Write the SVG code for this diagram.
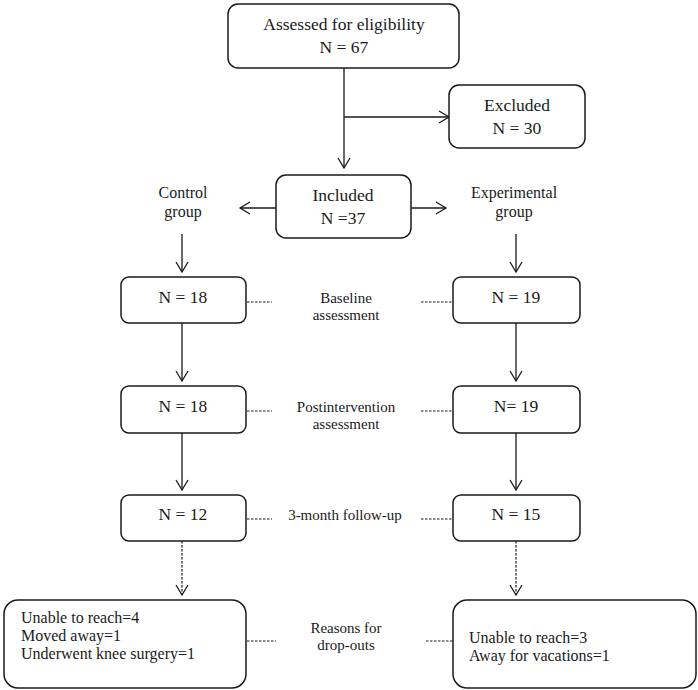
<svg xmlns="http://www.w3.org/2000/svg" width="698" height="690" viewBox="0 0 698 690">
<style>
.box{fill:#fff;stroke:#1a1a1a;stroke-width:1.5}
.ln{fill:none;stroke:#1a1a1a;stroke-width:1.3}
.ds{fill:none;stroke:#1a1a1a;stroke-width:1.2;stroke-dasharray:2.5,1.5}
.ah{fill:none;stroke:#1a1a1a;stroke-width:1.3}
text{font-family:"Liberation Serif","Times New Roman",serif;fill:#1a1a1a}
.t17{font-size:17.5px;text-anchor:middle}
.t16{font-size:16px;text-anchor:middle}
.t15{font-size:15px;text-anchor:middle}
.l16{font-size:16px}
</style>
<rect width="698" height="690" fill="#fff"/>
<g id="connectors">
  <path class="ln" d="M344,68 V168 M344,117 H449"/>
  <path class="ah" d="M338,158 L344,168 L350,158 M439,111 L449,117 L439,123"/>
  <path class="ln" d="M276,208 H240 M411,208 H446"/>
  <path class="ah" d="M250,202 L240,208 L250,214 M436,202 L446,208 L436,214"/>
  <path class="ln" d="M182,234 V272 M516,234 V272"/>
  <path class="ah" d="M176,262 L182,272 L188,262 M510,262 L516,272 L522,262"/>
  <path class="ln" d="M182,323 V381 M516,323 V381"/>
  <path class="ah" d="M176,371 L182,381 L188,371 M510,371 L516,381 L522,371"/>
  <path class="ln" d="M182,433 V490 M516,433 V490"/>
  <path class="ah" d="M176,480 L182,490 L188,480 M510,480 L516,490 L522,480"/>
  <path class="ds" d="M182,541 V594 M516,541 V594"/>
  <path class="ah" d="M176,585 L182,595 L188,585 M510,585 L516,595 L522,585"/>
  <path class="ds" d="M247,302 H272 M421,302 H453 M247,411 H272 M421,411 H453 M247,519 H272 M421,519 H453 M247,641 H276 M426,641 H453"/>
</g>
<g id="assessed"><rect class="box" x="228" y="4" width="231" height="64" rx="10"/><text class="t17" x="344" y="30">Assessed for eligibility</text><text class="t17" x="344" y="53">N = 67</text></g>
<g id="excluded"><rect class="box" x="449" y="85" width="136" height="63" rx="10"/><text class="t17" x="517" y="111">Excluded</text><text class="t17" x="517" y="134">N = 30</text></g>
<g id="included"><rect class="box" x="276" y="175" width="135" height="63" rx="10"/><text class="t17" x="343" y="201">Included</text><text class="t17" x="343" y="224">N =37</text></g>
<g id="control"><text class="t16" x="183" y="198">Control</text><text class="t16" x="183" y="217">group</text></g>
<g id="experimental"><text class="t16" x="514" y="198">Experimental</text><text class="t16" x="514" y="217">group</text></g>
<g id="c-baseline"><rect class="box" x="121" y="277" width="125" height="46" rx="8"/><text class="t17" x="183" y="303">N = 18</text></g>
<g id="e-baseline"><rect class="box" x="453" y="277" width="127" height="46" rx="8"/><text class="t17" x="516" y="303">N = 19</text></g>
<g id="baseline-label"><text class="t15" x="346" y="303">Baseline</text><text class="t15" x="346" y="320">assessment</text></g>
<g id="c-post"><rect class="box" x="121" y="386" width="125" height="47" rx="8"/><text class="t17" x="183" y="412">N = 18</text></g>
<g id="e-post"><rect class="box" x="453" y="386" width="127" height="47" rx="8"/><text class="t17" x="516" y="412">N= 19</text></g>
<g id="post-label"><text class="t15" x="346" y="412">Postintervention</text><text class="t15" x="346" y="429">assessment</text></g>
<g id="c-follow"><rect class="box" x="121" y="495" width="125" height="46" rx="8"/><text class="t17" x="183" y="520">N = 12</text></g>
<g id="e-follow"><rect class="box" x="453" y="495" width="127" height="46" rx="8"/><text class="t17" x="516" y="520">N = 15</text></g>
<g id="follow-label"><text class="t15" x="345" y="520">3-month follow-up</text></g>
<g id="c-reasons"><rect class="box" x="4" y="600" width="242" height="88" rx="14"/><text class="l16" x="21" y="623">Unable to reach=4</text><text class="l16" x="21" y="641">Moved away=1</text><text class="l16" x="21" y="659">Underwent knee surgery=1</text></g>
<g id="e-reasons"><rect class="box" x="453" y="600" width="243" height="88" rx="14"/><text class="l16" x="469" y="643">Unable to reach=3</text><text class="l16" x="469" y="661">Away for vacations=1</text></g>
<g id="reasons-label"><text class="t15" x="346" y="633">Reasons for</text><text class="t15" x="346" y="650">drop-outs</text></g>
</svg>
